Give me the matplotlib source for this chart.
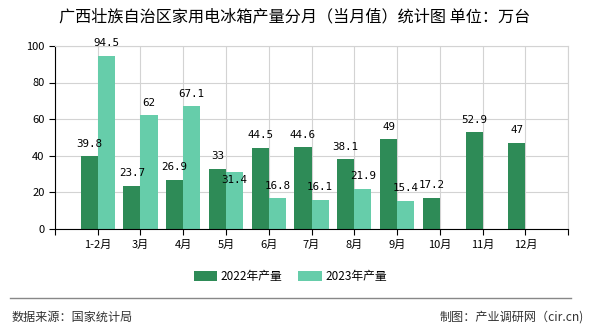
import matplotlib.pyplot as plt
import numpy as np

plt.rcParams['font.family'] = ['Noto Sans CJK SC', 'DejaVu Sans']

months = ['1-2月', '3月', '4月', '5月', '6月', '7月', '8月', '9月', '10月', '11月', '12月']
output_2022 = [39.8, 23.7, 26.9, 33, 44.5, 44.6, 38.1, 49, 17.2, 52.9, 47]
output_2023 = [94.5, 62, 67.1, 31.4, 16.8, 16.1, 21.9, 15.4]

c2022 = '#2e8b57'
c2023 = '#66cdaa'

fig = plt.figure(figsize=(5.9, 3.3), dpi=100)
ax = fig.add_axes([0.093, 0.306, 0.87, 0.555])

x = np.arange(len(months))
w = 0.4
b1 = ax.bar(x[:len(output_2022)] - w / 2, output_2022, w, color=c2022, label='2022年产量', zorder=2)
b2 = ax.bar(x[:len(output_2023)] + w / 2, output_2023, w, color=c2023, label='2023年产量', zorder=2)

# value labels above each bar; the 5月 one of 2023 is pushed inside so it doesn't hit "33"
for bars, vals in ((b1, output_2022), (b2, output_2023)):
    for rect, v in zip(bars, vals):
        dy = 9
        if bars is b2 and v == 31.4:
            dy = -6
        ax.annotate(f'{v:g}', (rect.get_x() + rect.get_width() / 2, v),
                    xytext=(0, dy), textcoords='offset points',
                    ha='center', va='center', fontsize=7.8,
                    family='DejaVu Sans Mono', zorder=3)

ax.set_xlim(-1, len(months))
ax.set_ylim(0, 100)
ax.set_xticks(np.arange(-1, len(months) + 1))
ax.set_xticklabels([''] + months + [''], fontsize=8)
ax.set_yticks(range(0, 101, 20))
ax.tick_params(axis='y', labelsize=8, length=4, width=0.8)
ax.tick_params(axis='x', length=4, width=0.8)
ax.grid(True, color='#d3d3d3', linewidth=0.8, zorder=0)
ax.set_axisbelow(True)
for s in ('top', 'right'):
    ax.spines[s].set_color('#d3d3d3')
for s in ('left', 'bottom'):
    ax.spines[s].set_color('black')

fig.text(0.4995, 0.948, '广西壮族自治区家用电冰箱产量分月（当月值）统计图 单位：万台',
         ha='center', va='center', fontsize=11.6)

fig.legend(handles=[b1, b2], loc='center', bbox_to_anchor=(0.492, 0.161), ncol=2,
           frameon=False, fontsize=8.5, handlelength=2.0, handleheight=0.9,
           columnspacing=1.3, handletextpad=0.3, borderpad=0)

fig.add_artist(plt.Line2D([0.017, 0.968], [0.097, 0.097], color='#888888', linewidth=1))
fig.text(0.02, 0.04, '数据来源：国家统计局', ha='left', va='center', fontsize=8.7, color='#333333')
fig.text(0.99, 0.04, '制图：产业调研网（cir.cn)', ha='right', va='center', fontsize=8.7, color='#333333')

fig.savefig('out.png', dpi=100)
